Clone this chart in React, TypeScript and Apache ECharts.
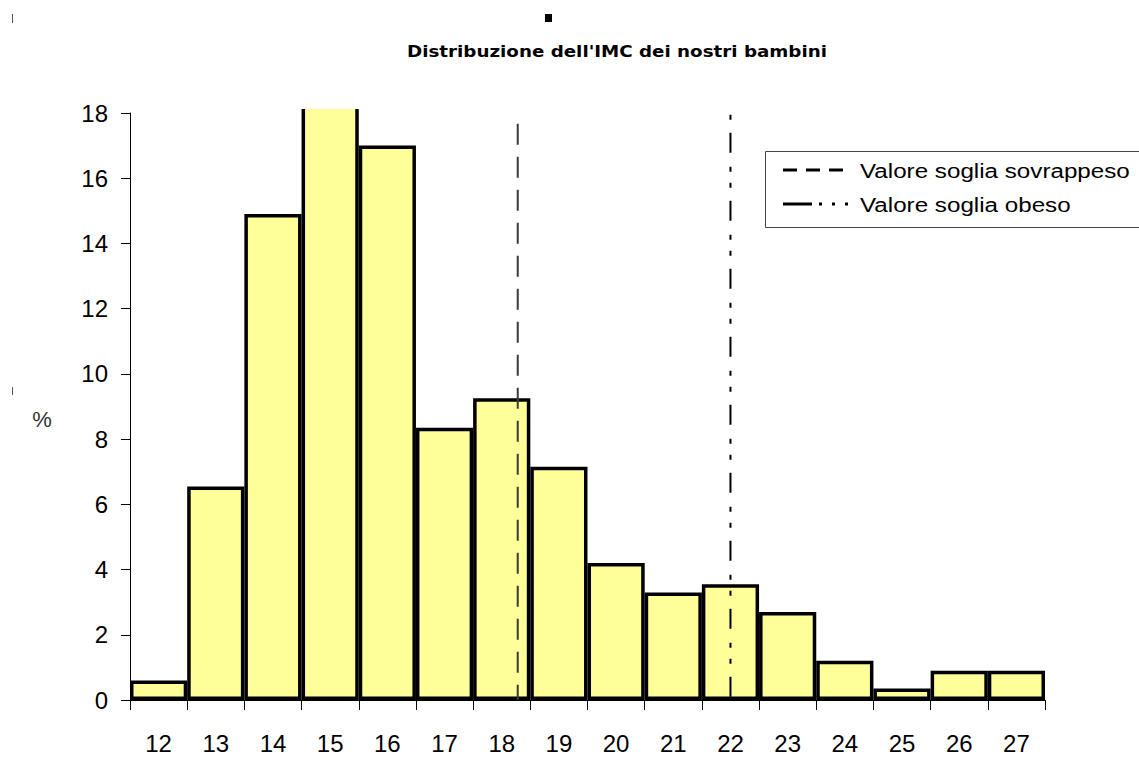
import React, { useEffect, useRef } from "react";
import * as echarts from "echarts";

const categories = ["12", "13", "14", "15", "16", "17", "18", "19", "20", "21", "22", "23", "24", "25", "26", "27"];
const percentages = [0.6, 6.55, 14.9, 18.6, 17.0, 8.35, 9.25, 7.15, 4.2, 3.3, 3.55, 2.7, 1.2, 0.35, 0.9, 0.9];
const yTicks = { min: 0, max: 18, interval: 2 };
const chartTitle = "Distribuzione dell'IMC dei nostri bambini";
const yLabel = "%";
const thresholdNames = ["Valore soglia sovrappeso", "Valore soglia obeso"];
const thresholdX = [18.28, 22.0];
const thresholdTop = [17.67, 17.95];

export default function App() {
  const ref = useRef<HTMLDivElement>(null);
  useEffect(() => {
    if (!ref.current) return;
    const chart = echarts.init(ref.current, null, { renderer: "svg" });
    const font = "Liberation Sans, Arial, sans-serif";
    const staticGraphics: any[] = [
      { id: "m1", type: "rect", shape: { x: 12, y: 14, width: 1, height: 9 }, style: { fill: "#555" } },
      { id: "m2", type: "rect", shape: { x: 12, y: 387, width: 1, height: 8 }, style: { fill: "#555" } },
      { id: "m3", type: "rect", shape: { x: 545, y: 14, width: 7, height: 8 }, style: { fill: "#000" } },
      {
        id: "title",
        type: "text",
        x: 617,
        y: 52,
        scaleX: 1.18,
        originX: 0,
        style: { text: chartTitle, fontSize: 15.5, fontWeight: "bold", fontFamily: "DejaVu Sans, sans-serif", fill: "#000", align: "center", verticalAlign: "middle" },
      },
      {
        id: "ylab",
        type: "text",
        x: 42,
        y: 419,
        style: { text: yLabel, fontSize: 22, fontFamily: font, fill: "#333", align: "center", verticalAlign: "middle" },
      },
      { id: "lbox", type: "rect", shape: { x: 765.5, y: 151.5, width: 400, height: 76 }, style: { fill: "#fff", stroke: "#444", lineWidth: 1 } },
      { id: "ls1", type: "line", shape: { x1: 783, y1: 170, x2: 843, y2: 170 }, style: { stroke: "#000", lineWidth: 3, lineDash: [14, 9] } },
      {
        id: "lt1",
        type: "text",
        x: 860,
        y: 171,
        scaleX: 1.21,
        style: { text: thresholdNames[0], fontSize: 20, fontFamily: font, fill: "#000", verticalAlign: "middle" },
      },
      { id: "ls2", type: "line", shape: { x1: 783, y1: 204, x2: 850, y2: 204 }, style: { stroke: "#000", lineWidth: 3, lineDash: [29, 7, 3, 10, 3, 10, 3, 100] } },
      {
        id: "lt2",
        type: "text",
        x: 860,
        y: 205,
        scaleX: 1.21,
        style: { text: thresholdNames[1], fontSize: 20, fontFamily: font, fill: "#000", verticalAlign: "middle" },
      },
    ];
    chart.setOption({
      animation: false,
      backgroundColor: "#ffffff",
      grid: { left: 130, right: 94, top: 113, bottom: 60, containLabel: false },
      xAxis: [
        {
          type: "category",
          data: categories,
          boundaryGap: true,
          axisLine: { lineStyle: { color: "#000", width: 1 } },
          axisTick: { show: true, length: 10, alignWithLabel: false, lineStyle: { color: "#000" } },
          axisLabel: { color: "#000", fontSize: 24, fontFamily: font, margin: 31 },
          splitLine: { show: false },
        },
        { type: "value", min: 11.5, max: 27.5, show: false },
      ],
      yAxis: {
        type: "value",
        min: yTicks.min,
        max: yTicks.max,
        interval: yTicks.interval,
        axisLine: { show: true, lineStyle: { color: "#000", width: 1 } },
        axisTick: { show: true, length: 9, lineStyle: { color: "#000" } },
        axisLabel: { color: "#000", fontSize: 24, fontFamily: font, margin: 22 },
        splitLine: { show: false },
      },
      series: [
        {
          type: "bar",
          data: percentages,
          barCategoryGap: 0,
          clip: false,
          itemStyle: { color: "#FFFF99", borderColor: "#000", borderWidth: 3.5 },
          z: 2,
        },
        {
          type: "line",
          xAxisIndex: 1,
          data: [[thresholdX[0], thresholdTop[0]], [thresholdX[0], 0]],
          symbol: "none",
          lineStyle: { color: "#3a3a3a", width: 2, type: [21, 12] },
          z: 5,
        },
        {
          type: "line",
          xAxisIndex: 1,
          data: [[thresholdX[1], thresholdTop[1]], [thresholdX[1], 0]],
          symbol: "none",
          lineStyle: { color: "#000", width: 2, type: [5, 13, 20, 14, 5, 11] },
          z: 5,
        },
      ],
      graphic: staticGraphics,
    });
    // the plot area cuts off bars taller than the axis maximum (no top edge drawn), as in the original
    const graphics = [...staticGraphics];
    percentages.forEach((v, i) => {
      if (v > yTicks.max) {
        const cx = chart.convertToPixel({ xAxisIndex: 0 }, categories[i]) as number;
        const nx = chart.convertToPixel({ xAxisIndex: 0 }, categories[Math.min(i + 1, categories.length - 1)]) as number;
        const w = Math.abs(nx - cx);
        const topY = chart.convertToPixel({ yAxisIndex: 0 }, yTicks.max) as number;
        graphics.push({
          id: "cut" + i,
          type: "rect",
          z: 100,
          shape: { x: cx - w / 2 - 4, y: 60, width: w + 8, height: topY - 4 - 60 },
          style: { fill: "#fff" },
        });
      }
    });
    chart.setOption({ graphic: graphics });
    return () => chart.dispose();
  }, []);
  return <div ref={ref} style={{ position: "fixed", left: 0, top: 0, width: 1139, height: 760 }} />;
}
